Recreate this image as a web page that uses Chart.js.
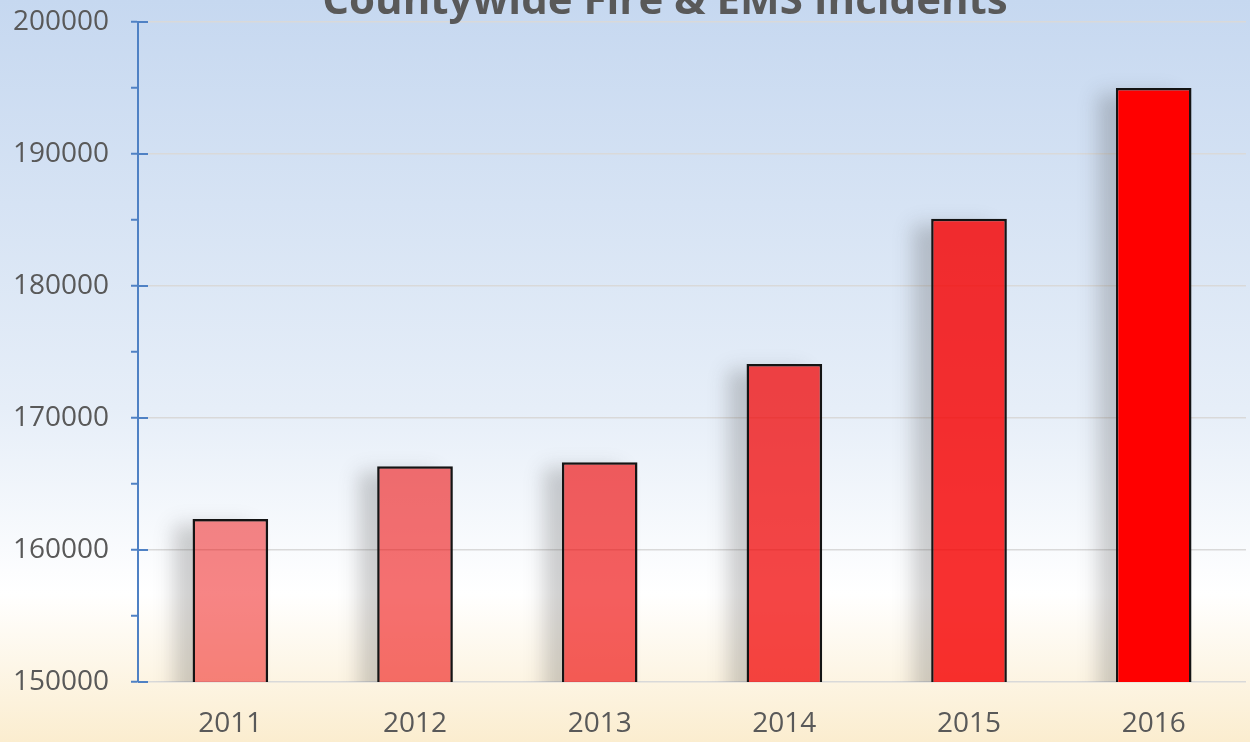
<!DOCTYPE html>
<html>
<head>
<meta charset="utf-8">
<script src="https://cdn.jsdelivr.net/npm/chart.js@4/dist/chart.umd.min.js"></script>
<style>
  html, body { margin: 0; padding: 0; }
  #wrap { width: 1250px; height: 742px; }
</style>
</head>
<body>
<div id="wrap"><canvas id="chart"></canvas></div>
<script>
const TITLE = 'Countywide Fire & EMS Incidents';
const YEARS = ['2011', '2012', '2013', '2014', '2015', '2016'];
const INCIDENTS = [162350, 166350, 166650, 174100, 185100, 195000];
const BAR_COLORS = [
  'rgba(238,0,0,0.48)',
  'rgba(238,0,0,0.56)',
  'rgba(238,0,0,0.63)',
  'rgba(240,0,0,0.73)',
  'rgba(245,0,0,0.81)',
  'rgba(255,0,0,1)',
];
const Y_MIN = 150000;
const Y_MAX = 200000;

const AXIS_BLUE = '#4f81c4';
const TEXT_GREY = '#595959';
const FONT = '"Open Sans", "Liberation Sans", sans-serif';

// gradient backdrop over the whole canvas
const backdrop = {
  id: 'backdrop',
  beforeDraw(chart) {
    const { ctx, width, height } = chart;
    const g = ctx.createLinearGradient(0, 0, 0, height);
    g.addColorStop(0, '#c6d8f0');
    g.addColorStop(0.55, '#e6eef8');
    g.addColorStop(0.8, '#ffffff');
    g.addColorStop(1, '#fbedcf');
    ctx.save();
    ctx.fillStyle = g;
    ctx.fillRect(0, 0, width, height);
    ctx.restore();
  }
};

// soft shadow to the left of every bar (kept out from under the bars themselves)
const barShadow = {
  id: 'barShadow',
  beforeDatasetsDraw(chart) {
    const { ctx, chartArea } = chart;
    const bars = chart.getDatasetMeta(0).data.map(b => {
      const p = b.getProps(['x', 'y', 'base', 'width'], true);
      return { left: p.x - p.width / 2, top: p.y, width: p.width, bottom: Math.min(p.base, chartArea.bottom) };
    });
    ctx.save();
    ctx.beginPath();
    ctx.rect(chartArea.left, chartArea.top, chartArea.width, chartArea.height);
    for (const b of bars) ctx.rect(b.left, b.top, b.width, b.bottom - b.top);
    ctx.clip('evenodd');
    ctx.shadowColor = 'rgba(70,70,70,0.26)';
    ctx.shadowBlur = 18;
    ctx.shadowOffsetX = -10000 - 18;
    ctx.fillStyle = '#000';
    for (const b of bars) {
      ctx.fillRect(b.left + 10000, b.top + 6, b.width, b.bottom - b.top + 20);
    }
    ctx.restore();
  }
};

// major ticks cross the axis line, title on top
const extras = {
  id: 'extras',
  afterDraw(chart) {
    const { ctx } = chart;
    const ys = chart.scales.y;
    ctx.save();
    ctx.strokeStyle = AXIS_BLUE;
    ctx.lineWidth = 2;
    for (let v = Y_MIN; v <= Y_MAX; v += 10000) {
      const py = ys.getPixelForValue(v);
      ctx.beginPath();
      ctx.moveTo(ys.right, py);
      ctx.lineTo(ys.right + 10, py);
      ctx.stroke();
    }
    ctx.fillStyle = TEXT_GREY;
    ctx.font = 'bold 42px ' + FONT;
    ctx.textAlign = 'center';
    ctx.textBaseline = 'alphabetic';
    ctx.fillText(TITLE, 665, 14);
    ctx.restore();
  }
};

new Chart(document.getElementById('chart'), {
  type: 'bar',
  data: {
    labels: YEARS,
    datasets: [{
      data: INCIDENTS,
      backgroundColor: BAR_COLORS,
      borderColor: '#141414',
      borderWidth: 2.5,
      borderSkipped: 'bottom',
      barPercentage: 0.41,
      categoryPercentage: 1,
    }]
  },
  options: {
    responsive: true,
    maintainAspectRatio: false,
    animation: false,
    layout: { padding: { top: 22, right: 4, left: 0, bottom: 0 } },
    plugins: {
      legend: { display: false },
      title: { display: false },
      tooltip: { enabled: false },
    },
    scales: {
      x: {
        grid: { display: false },
        border: { display: false },
        ticks: { color: TEXT_GREY, font: { family: FONT, size: 28 }, padding: 17 },
        afterFit(scale) { scale.height = 60; scale.paddingLeft = 0; scale.paddingRight = 0; },
      },
      y: {
        min: Y_MIN,
        max: Y_MAX,
        border: { display: true, color: AXIS_BLUE, width: 2 },
        grid: {
          color: ctx => (ctx.tick && ctx.tick.value % 10000 === 0) ? '#d9d9d9' : 'rgba(0,0,0,0)',
          lineWidth: 1.5,
          tickColor: AXIS_BLUE,
          tickLength: 7,
          tickWidth: 2,
        },
        ticks: {
          stepSize: 5000,
          color: TEXT_GREY,
          font: { family: FONT, size: 28 },
          padding: 22,
          callback: v => (v % 10000 === 0 ? String(v) : ''),
        },
        afterFit(scale) { scale.width = 138; scale.paddingTop = 0; scale.paddingBottom = 0; },
      }
    }
  },
  plugins: [backdrop, barShadow, extras]
});
</script>
</body>
</html>
